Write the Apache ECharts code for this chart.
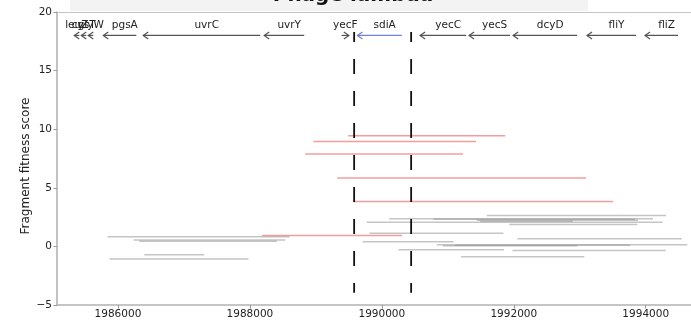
<!DOCTYPE html>
<html>
<head>
<meta charset="utf-8">
<script src="https://cdn.jsdelivr.net/npm/echarts@6/dist/echarts.min.js"></script>
<style>html,body{margin:0;padding:0;background:#fff;}#chart{width:691px;height:322px;}</style>
</head>
<body>
<div id="chart"></div>
<script>
// ---- data ----
const chartTitle = 'Phage lambda';
const yAxisTitle = 'Fragment fitness score';
const xTickValues = [1986000, 1988000, 1990000, 1992000, 1994000];
const yTickValues = [-5, 0, 5, 10, 15, 20];

const geneNames  = ['leuZ','cysT','glyW','pgsA','uvrC','uvrY','yecF','sdiA','yecC','yecS','dcyD','fliY','fliZ'];
const geneStart  = [1985338,1985444,1985550,1985778,1986383,1988217,1989390,1989630,1990580,1991322,1991990,1993110,1993989];
const geneEnd    = [1985414,1985520,1985626,1986278,1988156,1988823,1989500,1990303,1991277,1991944,1992960,1993853,1994489];
const geneStrand = [-1,-1,-1,-1,-1,-1,1,-1,-1,-1,-1,-1,-1];
const highlightGene = 'sdiA';

const regionBounds = [1989580, 1990444];

const sigStart = [1989489,1988961,1988838,1989323,1989565,1988186];
const sigEnd   = [1991871,1991428,1991232,1993095,1993504,1990307];
const sigScore = [9.44,8.95,7.88,5.83,3.83,0.93];

const nsStart = [1985843,1986237,1986323,1986399,1985873,1991591,1990111,1990782,1989773,1991439,1991489,1991933,1989812,1992054,1989706,1990833,1991110,1990924,1990251,1991979,1991201];
const nsEnd   = [1988600,1988535,1988409,1987308,1987979,1994307,1994110,1993837,1994257,1993883,1992894,1993872,1991842,1994545,1991085,1994630,1993765,1992963,1991853,1994303,1993069];
const nsScore = [0.82,0.54,0.45,-0.72,-1.08,2.64,2.36,2.32,2.07,2.23,2.14,1.87,1.13,0.65,0.39,0.14,0.10,0.05,-0.29,-0.35,-0.89];

// ---- layout constants ----
const xMin = 1985076, xMax = 1994686;
const geneTrackY = 18, geneLabelY = 18.9;
const dashTop = 18.3, dashBottom = -3.96;
const FONT = 'DejaVu Sans';

const chart = echarts.init(document.getElementById('chart'), null, {renderer: 'canvas'});

function segSeries(starts, ends, scores, color, z) {
  return {
    type: 'custom', z: z,
    data: starts.map((s, i) => [s, ends[i], scores[i]]),
    encode: {x: [0, 1], y: 2},
    renderItem: function (params, api) {
      const a = api.coord([api.value(0), api.value(2)]);
      const b = api.coord([api.value(1), api.value(2)]);
      return {type: 'line', shape: {x1: a[0], y1: a[1], x2: b[0], y2: b[1]},
        style: {stroke: color, lineWidth: 1.5}};
    }
  };
}

const option = {
  animation: false,
  backgroundColor: '#fff',
  grid: {left: 57, top: 12, right: 0, bottom: 17},
  xAxis: {
    type: 'value', min: xMin, max: xMax,
    splitLine: {show: false},
    axisLine: {show: true, onZero: false, lineStyle: {color: '#b3b3b3', width: 1.6}},
    axisTick: {show: true, length: 3.5, lineStyle: {color: '#999'}, customValues: xTickValues},
    axisLabel: {color: '#222', fontFamily: FONT, fontSize: 10.5, margin: 4, customValues: xTickValues,
      formatter: v => String(v)}
  },
  yAxis: {
    type: 'value', min: -5, max: 20, interval: 5,
    splitLine: {show: false},
    axisLine: {show: true, onZero: false, lineStyle: {color: '#b3b3b3', width: 1.6}},
    axisTick: {show: true, length: 3.5, lineStyle: {color: '#999'}},
    axisLabel: {color: '#222', fontFamily: FONT, fontSize: 10.5, margin: 5,
      formatter: v => (v < 0 ? '\u2212' + Math.abs(v) : String(v))}
  },
  graphic: [
    {type: 'rect', shape: {x: 70, y: 0, width: 518, height: 11}, style: {fill: '#f3f3f3'}, z: 0},
    {type: 'line', shape: {x1: 57, y1: 12.5, x2: 691, y2: 12.5}, style: {stroke: '#c4c4c4', lineWidth: 1}, z: 1},
    {type: 'text', x: 353, y: 5.5, style: {text: chartTitle, font: 'bold 20px "DejaVu Sans"', fill: '#111', align: 'center', verticalAlign: 'bottom'}, z: 1},
    {type: 'text', x: 26, y: 166, rotation: Math.PI / 2,
      style: {text: yAxisTitle, font: '12px "DejaVu Sans"', fill: '#222', align: 'center', verticalAlign: 'middle'}, z: 1}
  ],
  series: [
    segSeries(nsStart, nsEnd, nsScore, 'rgba(140,140,140,0.5)', 2),
    segSeries(sigStart, sigEnd, sigScore, 'rgba(236,90,90,0.6)', 3),
    {
      type: 'custom', z: 5,
      data: regionBounds.map(x => [x, dashTop, dashBottom]),
      encode: {x: 0, y: [1, 2]},
      renderItem: function (params, api) {
        const a = api.coord([api.value(0), api.value(1)]);
        const b = api.coord([api.value(0), api.value(2)]);
        return {type: 'line', shape: {x1: a[0], y1: a[1], x2: b[0], y2: b[1]},
          style: {stroke: '#111', lineWidth: 1.8, lineDash: [15, 17], lineDashOffset: 5}};
      }
    },
    {
      type: 'custom', z: 6,
      data: geneNames.map((n, i) => [geneStart[i], geneEnd[i], geneTrackY, geneStrand[i], geneLabelY]),
      encode: {x: [0, 1], y: 2},
      renderItem: function (params, api) {
        const i = params.dataIndex;
        const s = api.coord([api.value(0), api.value(2)]);
        const e = api.coord([api.value(1), api.value(2)]);
        const strand = api.value(3);
        const tip = strand < 0 ? s : e;
        const tail = strand < 0 ? e : s;
        const dir = strand < 0 ? 1 : -1;
        const color = geneNames[i] === highlightGene ? '#6f82d6' : '#555';
        const mid = api.coord([(api.value(0) + api.value(1)) / 2, api.value(4)]);
        const off = strand < 0 && (api.value(1) - api.value(0)) > 300 ? 5 : 0;
        return {
          type: 'group',
          children: [
            {type: 'line', shape: {x1: tail[0], y1: tail[1], x2: tip[0], y2: tip[1]}, style: {stroke: color, lineWidth: 1.2}},
            {type: 'polyline', shape: {points: [[tip[0] + dir * 5, tip[1] - 3.5], [tip[0], tip[1]], [tip[0] + dir * 5, tip[1] + 3.5]]},
              style: {stroke: color, lineWidth: 1.2, fill: null}},
            {type: 'text', x: mid[0] + off, y: mid[1],
              style: {text: geneNames[i], font: '10.5px "DejaVu Sans"', fill: '#222', align: 'center', verticalAlign: 'middle'}}
          ]
        };
      }
    }
  ]
};
chart.setOption(option);
</script>
</body>
</html>
